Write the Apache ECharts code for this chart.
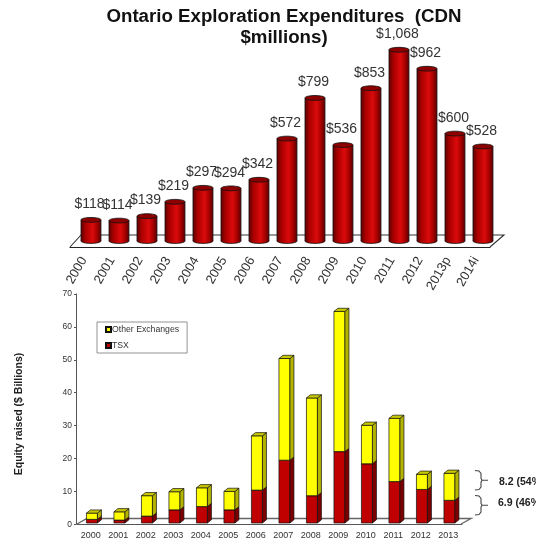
<!DOCTYPE html>
<html><head><meta charset="utf-8">
<style>html,body{margin:0;padding:0;background:#fff}#c{width:536px;height:542px}</style>
<script src="https://cdn.jsdelivr.net/npm/echarts@6/dist/echarts.min.js"></script>
</head><body><div id="c"></div>
<script>
const titleText = 'Ontario Exploration Expenditures  (CDN\n$millions)';
const expYears = ['2000','2001','2002','2003','2004','2005','2006','2007','2008','2009','2010','2011','2012','2013p','2014i'];
const expValues = [118,114,139,219,297,294,342,572,799,536,853,1068,962,600,528];
const eqYears = ['2000','2001','2002','2003','2004','2005','2006','2007','2008','2009','2010','2011','2012','2013'];
const tsx = [1.1,0.9,2.1,4.0,5.0,4.0,10.0,19.1,8.3,21.7,18.0,12.6,10.2,6.9];
const other = [1.9,2.5,6.2,5.5,5.7,5.6,16.5,30.9,29.7,42.6,11.7,19.2,4.6,8.2];
const fontFamily = '"Liberation Sans", Arial, sans-serif';
const FONT = fontFamily;

const chart = echarts.init(document.getElementById('c'), null, {renderer:'canvas'});

function cylinder(params, api){
  const i = api.value(0), v = api.value(1);
  const top = api.coord([i, v]), base = api.coord([i, 0]);
  const w = api.size([1,0])[0]*0.715;
  const cx = top[0]+7, by = base[1]-6, ty = top[1]-6;
  const rx = w/2, ry = 2.4;
  const grad = new echarts.graphic.LinearGradient(0,0,1,0,[
    {offset:0,color:'#5e0000'},{offset:0.22,color:'#a80000'},
    {offset:0.58,color:'#dc0a0a'},{offset:0.82,color:'#a00000'},{offset:1,color:'#5a0000'}]);
  return {type:'group', children:[
    {type:'ellipse',shape:{cx:cx,cy:by,rx:rx,ry:ry},style:{fill:grad,stroke:'#111',lineWidth:0.8}},
    {type:'rect',shape:{x:cx-rx,y:ty,width:w,height:by-ty},style:{fill:grad}},
    {type:'line',shape:{x1:cx-rx,y1:ty,x2:cx-rx,y2:by},style:{stroke:'#111',lineWidth:0.8}},
    {type:'line',shape:{x1:cx+rx,y1:ty,x2:cx+rx,y2:by},style:{stroke:'#222',lineWidth:0.8}},
    {type:'ellipse',shape:{cx:cx,cy:ty,rx:rx,ry:ry},style:{fill:'#8c0000',stroke:'#111',lineWidth:0.8}},
    {type:'text',z2:10,style:{x:cx-1.5,y:ty-15.5,text:'$'+v.toLocaleString('en-US'),align:'center',verticalAlign:'middle',
      fill:'#333',font:'14px '+FONT}}
  ]};
}

function box(front, topCol, sideCol){
  return function(params, api){
    const i = api.value(0), s = api.value(1), e = api.value(2);
    const a = api.coord([i, s]), b = api.coord([i, e]);
    const w = api.size([1,0])[0]*0.4;
    const cx = a[0]+1.2, y0 = a[1]-1.3, y1 = b[1]-1.3;
    const l = cx-w/2, r = cx+w/2, dx = 4, dy = 3.2;
    const st = {stroke:'#111',lineWidth:0.7};
    return {type:'group', children:[
      {type:'rect',shape:{x:l,y:y1,width:w,height:y0-y1},style:Object.assign({fill:front},st)},
      {type:'polygon',shape:{points:[[r,y1],[r+dx,y1-dy],[r+dx,y0-dy],[r,y0]]},style:Object.assign({fill:sideCol},st)},
      {type:'polygon',shape:{points:[[l,y1],[l+dx,y1-dy],[r+dx,y1-dy],[r,y1]]},style:Object.assign({fill:topCol},st)}
    ]};
  };
}

const brace = (x,y1,y2)=>{
  const m=(y1+y2)/2;
  return {type:'polyline',z:3,shape:{points:[[x,y1],[x+4,y1+0.5],[x+6,y1+3],[x+6,m-2],[x+7,m],[x+13,m],[x+7,m],[x+6,m+2],[x+6,y2-3],[x+4,y2-0.5],[x,y2]]},
    style:{stroke:'#444',lineWidth:1.1,fill:null}};
};

chart.setOption({
  animation:false,
  backgroundColor:'#fff',
  title:{text:titleText,left:279,top:1,textAlign:'center',
    textStyle:{fontFamily:FONT,fontWeight:'bold',fontSize:18.7,lineHeight:21,color:'#111'}},
  legend:{data:['Other Exchanges','TSX'],orient:'vertical',left:97,top:322,padding:[3,8,3,8],itemGap:7,
    itemWidth:5,itemHeight:5,icon:'rect',selectedMode:false,backgroundColor:'#fff',borderColor:'#777',borderWidth:0.8,borderRadius:0,
    textStyle:{fontFamily:FONT,fontSize:8.7,color:'#333',padding:[0,0,0,-4]}},
  grid:[{left:70,top:50,width:420,height:197},{left:77,top:294,width:385,height:230.3}],
  xAxis:[
    {type:'category',gridIndex:0,data:expYears,axisLine:{lineStyle:{color:'#222',width:1}},
      axisTick:{length:4,lineStyle:{color:'#222'}},
      axisLabel:{interval:0,rotate:60,fontSize:13,color:'#333',fontFamily:FONT,margin:11}},
    {type:'category',gridIndex:1,data:eqYears,axisLine:{lineStyle:{color:'#555',width:1}},
      axisTick:{length:4,lineStyle:{color:'#555'}},
      axisLabel:{interval:0,fontSize:9,color:'#333',fontFamily:FONT,margin:7}}
  ],
  yAxis:[
    {type:'value',gridIndex:0,min:0,max:1100,show:false,splitLine:{show:false}},
    {type:'value',gridIndex:1,min:0,max:70,interval:10,position:'left',offset:1,
      axisLine:{show:true,lineStyle:{color:'#555',width:1}},axisTick:{show:true,length:2,lineStyle:{color:'#555'}},
      splitLine:{show:false},
      axisLabel:{fontSize:8.5,color:'#333',fontFamily:FONT,margin:4}}
  ],
  graphic:[
    {type:'polyline',z:1,shape:{points:[[70,247],[81,235],[504,235],[490,247]]},style:{stroke:'#333',lineWidth:1.1,fill:'#fff'}},
    {type:'polyline',z:1,shape:{points:[[77,524],[87,518.5],[471,518.5],[461,524]]},style:{stroke:'#666',lineWidth:1.4,fill:'#fff'}},
    brace(475,470.5,490),
    brace(475,495.5,515),
    {type:'text',z:3,x:19,y:414,rotation:Math.PI/2,style:{x:0,y:0,text:'Equity raised ($ Billions)',align:'center',verticalAlign:'middle',fill:'#222',font:'bold 10.5px '+FONT}},
    {type:'text',z:3,style:{x:499,y:482,text:'8.2 (54%)',verticalAlign:'middle',fill:'#222',font:'bold 10.5px '+FONT}},
    {type:'text',z:3,style:{x:498,y:503,text:'6.9 (46%)',verticalAlign:'middle',fill:'#222',font:'bold 10.5px '+FONT}}
  ],
  series:[
    {type:'custom',name:'Expenditures',xAxisIndex:0,yAxisIndex:0,z:4,clip:false,
      data:expValues.map((v,i)=>[i,v]),encode:{x:0,y:1},renderItem:cylinder},
    {type:'custom',name:'TSX',xAxisIndex:1,yAxisIndex:1,z:4,clip:false,itemStyle:{color:'#c00000',borderColor:'#111',borderWidth:0.6},
      data:tsx.map((v,i)=>[i,0,v]),encode:{x:0,y:2},renderItem:box('#c00000','#7c0000','#7c0000')},
    {type:'custom',name:'Other Exchanges',xAxisIndex:1,yAxisIndex:1,z:5,clip:false,itemStyle:{color:'#ffff00',borderColor:'#111',borderWidth:0.6},
      data:other.map((v,i)=>[i,tsx[i],tsx[i]+v]),encode:{x:0,y:2},renderItem:box('#ffff00','#c8c800','#b4b400')}
  ]
});
</script></body></html>
